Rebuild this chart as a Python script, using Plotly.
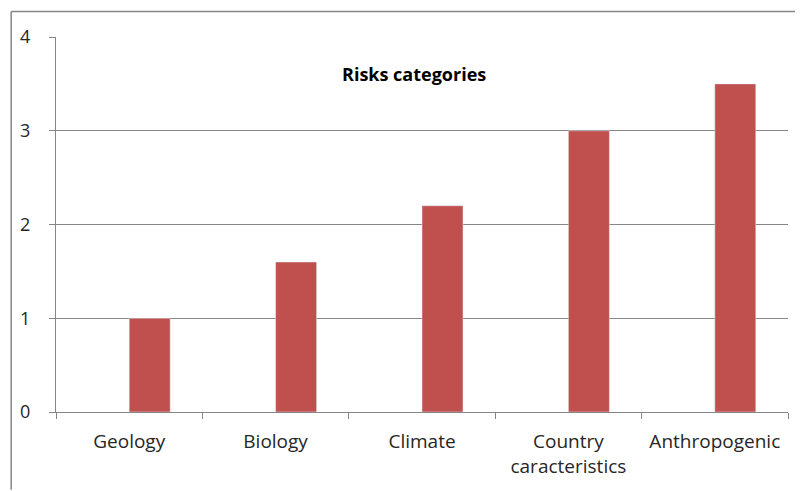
import plotly.graph_objects as go

categories = ["Geology", "Biology", "Climate", "Country<br>caracteristics", "Anthropogenic"]
empty_series = [None, None, None, None, None]
values = [1.0, 1.6, 2.2, 3.0, 3.5]
y_ticks = [0, 1, 2, 3, 4]

# page is offset by the 8px default body margin
OFF = 8
W, H = 803 - OFF, 491 - OFF
L, R, T, B = 53 - OFF, 788 - OFF, 37 - OFF, 413 - OFF

def px(x):
    return (x - OFF - L) / (R - L)

def py(y):
    return (B - (y - OFF)) / (B - T)

FONT = "Open Sans, Lato, Liberation Sans, sans-serif"

fig = go.Figure()
fig.add_trace(go.Bar(x=categories, y=empty_series, marker_color="#4F81BD", showlegend=False))
fig.add_trace(go.Bar(x=categories, y=values, marker_color="#C0504D", showlegend=False))

gray = "#868686"
fig.update_layout(
    width=W, height=H,
    margin=dict(l=L, r=W - R, t=T, b=H - B, pad=0),
    paper_bgcolor="white", plot_bgcolor="white",
    barmode="group", bargap=0.44, bargroupgap=0,
    font=dict(family=FONT, size=19, color="#262626"),
    xaxis=dict(
        showline=True, linecolor=gray, linewidth=1,
        ticks="outside", tickson="boundaries", ticklen=6, tickcolor=gray,
        showgrid=False, ticklabelstandoff=12,
        tickfont=dict(size=19, color="#262626"),
    ),
    yaxis=dict(
        range=[0, 4], tickvals=y_ticks, showline=True, linecolor=gray, linewidth=1,
        ticks="outside", ticklen=6, tickcolor=gray,
        showgrid=True, gridcolor=gray, gridwidth=1, zeroline=False,
        ticklabelstandoff=15,
        tickfont=dict(size=18, color="#262626"),
    ),
    annotations=[dict(
        text="<b>Risks categories</b>", x=px(412), y=py(74), xref="paper", yref="paper",
        showarrow=False, xanchor="center", yanchor="middle",
        font=dict(size=18, color="#000000", family=FONT),
    )],
    shapes=[
        dict(type="line", xref="paper", yref="paper", x0=px(8), x1=px(803), y0=py(11.5), y1=py(11.5),
             line=dict(color=gray, width=1.5)),
        dict(type="line", xref="paper", yref="paper", x0=px(8), x1=px(8), y0=py(11.5), y1=py(491),
             line=dict(color=gray, width=1.5)),
    ],
)

fig.write_html("out.html")
